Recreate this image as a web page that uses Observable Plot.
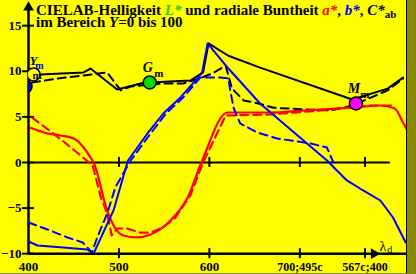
<!DOCTYPE html>
<html><head><meta charset="utf-8">
<script src="https://cdn.jsdelivr.net/npm/d3@7"></script>
<script src="https://cdn.jsdelivr.net/npm/@observablehq/plot@0.6"></script>
<style>
html,body{margin:0;padding:0;background:#ffff00;overflow:hidden}
svg{display:block}
</style></head><body>
<div id="chart"></div>
<script>
// L* /10, solid and dashed
const lamLs = [400, 413, 461, 468.5, 498, 524, 534, 579, 593, 599, 621, 656, 758, 797, 814];
const valLs = [9.65, 9.65, 9.87, 10.3, 8.0, 8.66, 8.77, 8.99, 9.87, 13.05, 11.7, 10.4, 6.9, 8.1, 9.3];
const lamLd = [404, 439, 461, 487, 502, 513, 549, 571, 592, 603, 618, 625, 638, 654, 671, 690, 734, 758, 797, 814];
const valLd = [8.77, 9.3, 9.54, 9.87, 7.9, 8.33, 8.66, 8.66, 9.32, 9.76, 10.6, 8.1, 6.8, 6.47, 6.0, 5.9, 5.7, 6.25, 7.9, 9.2];
// a*
const lamAs = [402, 417, 435, 450, 461, 468.5, 472, 487, 496, 505, 520, 535, 557, 576, 592, 620, 667, 704, 759, 789, 805, 814, 819];
const valAs = [3.8, 3.29, 2.96, 2.63, 1.64, 0.55, 0, -5.26, -7.24, -8.0, -8.22, -7.9, -6.36, -3.84, 0.22, 5.48, 5.48, 5.7, 6.03, 6.25, 5.92, 4.39, 3.5];
const lamAd = [404, 435, 471, 480, 487, 492, 498, 509, 524, 535, 549, 562, 579, 593, 618, 667, 723, 778, 802];
const valAd = [4.93, 2.6, -0.33, -3.84, -5.6, -8.0, -7.24, -7.24, -7.7, -7.7, -7.1, -6.1, -3.6, 0, 5.15, 5.26, 5.7, 6.25, 6.25];
// b*
const lamBs = [400, 410, 435, 465, 472, 494, 510, 531.5, 549, 568, 586.7, 592, 598, 621, 656, 730, 752, 770, 789, 803, 817];
const valBs = [-8.66, -9.1, -9.3, -9.54, -9.98, -5.26, 0.22, 3.18, 5.37, 7.13, 9.21, 9.87, 13.05, 10.3, 6.47, 0.22, -1.97, -3.07, -4.17, -6.03, -8.77];
const lamBd = [400, 424, 443, 460, 470, 476, 487, 496, 513, 535, 552, 571, 590, 612, 621, 623, 627, 634, 653, 675, 712, 730, 737];
const valBd = [-6.58, -7.46, -8.22, -8.77, -9.87, -8.22, -5.6, -2.74, 0.22, 3.18, 5.37, 7.13, 9.32, 9.32, 9.21, 7.9, 5.92, 4.28, 3.29, 2.63, 2.08, 1.64, 0];
// markers
const mkLam = [396.7, 405.5, 534, 762];
const mkVal = [8.33, 9.65, 8.77, 6.47];
const mkFill = ["#0000ff", "#ffff00", "#00dd00", "#ff00ff"];
const mkLabel = ["", "", "G", "M"];
// axes
const xTicks = [400, 500, 600, 700, 772];
const xTickLabels = ["400", "500", "600", "700;495c", "567c;400"];
const yTicks = [15, 10, 5, 0, -5, -10];
const yTickLabels = ["15", "10", "5", "0", "\u22125", "\u221210"];

const pts = (a, b) => a.map((d, i) => ({x: d, y: b[i]}));
const X0 = 400, YMIN = -9.98, YMAX = 17.76;
const bold = {fontWeight: "bold", fill: "black"};

const plot = Plot.plot({
  width: 416, height: 274,
  marginLeft: 28, marginRight: 9, marginTop: 0, marginBottom: 21,
  x: {domain: [400, 819], axis: null},
  y: {domain: [YMIN, YMAX], axis: null},
  style: {background: "transparent", fontFamily: "Liberation Serif", overflow: "visible"},
  marks: [
    // axes
    Plot.ruleY([0], {x1: X0, x2: 800, stroke: "black", strokeWidth: 2}),
    Plot.ruleY([-10], {x1: X0, x2: 819, stroke: "black", strokeWidth: 2.5}),
    Plot.ruleX([X0], {y1: -10, y2: 17.2, stroke: "black", strokeWidth: 2.5}),
    Plot.dot([{x: X0, y: 17.0}], {x: "x", y: "y", symbol: "triangle", r: 4, fill: "black"}),
    Plot.dot([{x: 782, y: -10}], {x: "x", y: "y", symbol: "triangle", r: 4, fill: "black", rotate: 90}),
    Plot.ruleX(xTicks.slice(1), {x: d => d, y1: -10.55, y2: -9.45, stroke: "black", strokeWidth: 2}),
    Plot.ruleX(xTicks.slice(1), {x: d => d, y1: -0.55, y2: 0.55, stroke: "black", strokeWidth: 2}),
    Plot.ruleY(yTicks, {y: d => d, x1: 393.4, x2: 406.6, stroke: "black", strokeWidth: 2}),
    Plot.text(xTicks, {x: d => d, y: -10, dy: 13, text: (d, i) => xTickLabels[i], fontSize: (d, i) => i < 3 ? 13 : 12, ...bold}),
    Plot.text(yTicks, {x: X0, y: d => d, dx: -7, text: (d, i) => yTickLabels[i], textAnchor: "end", fontSize: 13, ...bold}),
    Plot.text([{x: 788}], {x: "x", y: -10, dy: -7, text: () => "\u03bb", fontSize: 14, textAnchor: "start", fill: "black"}),
    Plot.text([{x: 796.5}], {x: "x", y: -10, dy: -4, text: () => "d", fontSize: 10, textAnchor: "start", fill: "black"}),
    // curves
    Plot.line(pts(lamLs, valLs), {x: "x", y: "y", stroke: "black", strokeWidth: 2, clip: true}),
    Plot.line(pts(lamLd, valLd), {x: "x", y: "y", stroke: "black", strokeWidth: 2, strokeDasharray: "8,5", clip: true}),
    Plot.line(pts(lamAs, valAs), {x: "x", y: "y", stroke: "#ff0000", strokeWidth: 2.2, curve: "monotone-x", clip: true}),
    Plot.line(pts(lamAd, valAd), {x: "x", y: "y", stroke: "#ff0000", strokeWidth: 2.2, strokeDasharray: "8,5", clip: true}),
    Plot.line(pts(lamBs, valBs), {x: "x", y: "y", stroke: "#0000ff", strokeWidth: 2, clip: true}),
    Plot.line(pts(lamBd, valBd), {x: "x", y: "y", stroke: "#0000ff", strokeWidth: 2, strokeDasharray: "8,5", clip: true}),
    // markers
    Plot.dot(pts(mkLam, mkVal), {x: "x", y: "y", r: 6.5, fill: (d, i) => mkFill[i], stroke: "black", strokeWidth: 1.5, clip: true}),
    Plot.text(pts(mkLam, mkVal), {x: "x", y: "y", dx: -2, dy: -15, text: (d, i) => mkLabel[i], fontSize: 14, fontStyle: "italic", ...bold}),
    Plot.text(pts(mkLam, mkVal).slice(2), {x: "x", y: "y", dx: 9, dy: -9, text: () => "m", fontSize: 11, ...bold}),
    Plot.text([{x: 404.5, y: mkVal[1]}], {x: "x", y: "y", dy: 1, text: () => "m", fontSize: 11, textAnchor: "start", ...bold}),
    Plot.text([{x: 401, y: 11.2}], {x: "x", y: "y", text: () => "Y", fontSize: 13, fontStyle: "italic", textAnchor: "start", ...bold}),
    Plot.text([{x: 407.5, y: 10.6}], {x: "x", y: "y", text: () => "m", fontSize: 10, textAnchor: "start", fill: "#0000cc", fontWeight: "bold"})
  ]
});

const svg = d3.select(plot);
// title
const t1 = svg.append("text").attr("x", 36).attr("y", 15).attr("font-family", "Liberation Serif")
  .attr("text-anchor", "start").attr("font-weight", "bold").attr("font-size", 15).attr("fill", "black");
t1.append("tspan").text("CIELAB-Helligkeit ");
t1.append("tspan").attr("fill", "#22cc22").attr("font-style", "italic").text("L*");
t1.append("tspan").text(" und radiale Buntheit ");
t1.append("tspan").attr("fill", "#ff0000").attr("font-style", "italic").text("a*");
t1.append("tspan").text(", ");
t1.append("tspan").attr("fill", "#0000ff").attr("font-style", "italic").text("b*");
t1.append("tspan").text(", ");
t1.append("tspan").attr("font-style", "italic").text("C*");
t1.append("tspan").attr("font-size", 11).attr("dy", 3).text("ab");
const t2 = svg.append("text").attr("x", 36).attr("y", 27).attr("font-family", "Liberation Serif")
  .attr("text-anchor", "start").attr("font-weight", "bold").attr("font-size", 15).attr("fill", "black");
t2.append("tspan").text("im Bereich ");
t2.append("tspan").attr("font-style", "italic").text("Y");
t2.append("tspan").text("=0 bis 100");
// frame on right / bottom edge
svg.append("rect").attr("x", 407).attr("y", 0).attr("width", 9).attr("height", 274).attr("fill", "#8a8a00");
svg.append("rect").attr("x", 0).attr("y", 273).attr("width", 416).attr("height", 1).attr("fill", "#8a8a00");
svg.append("line").attr("x1", 406.5).attr("x2", 406.5).attr("y1", 0).attr("y2", 273).attr("stroke", "black").attr("stroke-width", 1);

document.getElementById("chart").appendChild(plot);
</script>
</body></html>
